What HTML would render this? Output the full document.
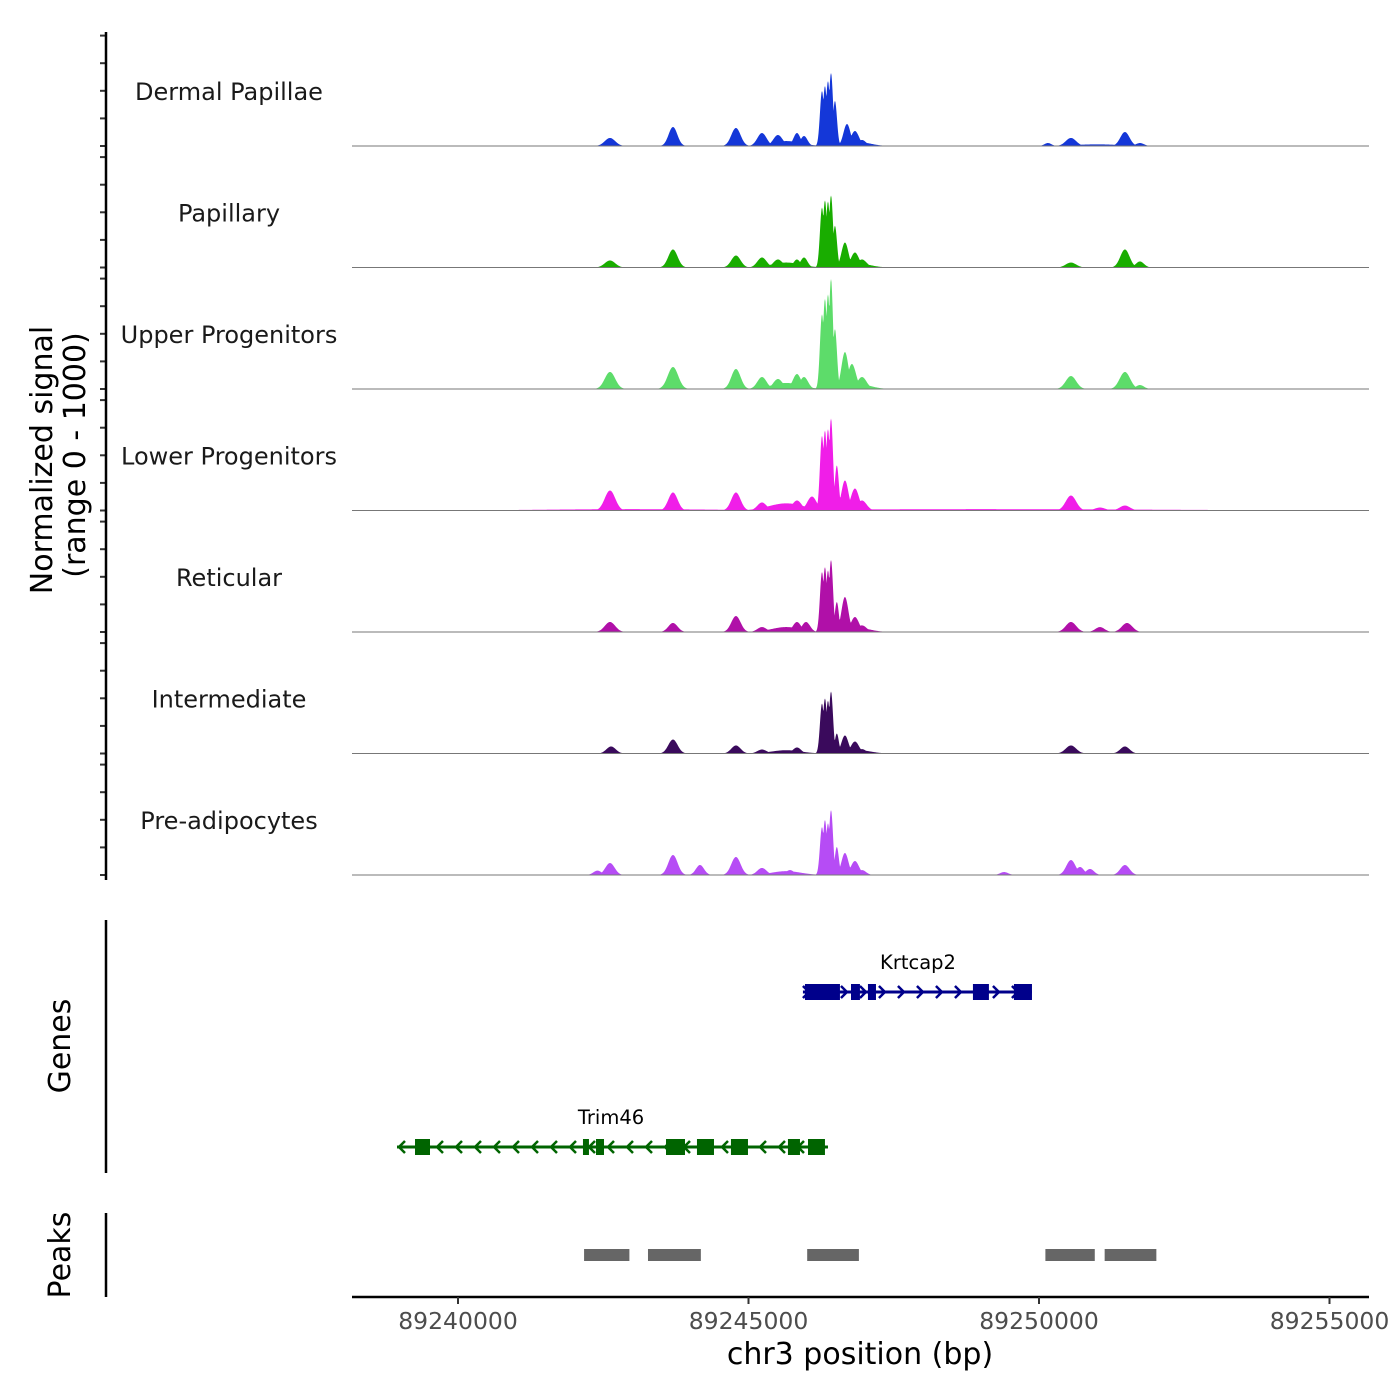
<!DOCTYPE html>
<html><head><meta charset="utf-8"><style>
html,body{margin:0;padding:0;background:#fff}
svg{display:block}
text{font-family:"DejaVu Sans","Liberation Sans",sans-serif}
</style></head><body>
<svg id="chart" width="1400" height="1400" viewBox="0 0 1400 1400" xmlns="http://www.w3.org/2000/svg">
<g id="tracks"></g>
<g id="axes"></g>
<g id="genes"></g>
<g id="peaks"></g>
</svg>
<script>
// ---- data ----
const trackNames = ["Dermal Papillae","Papillary","Upper Progenitors","Lower Progenitors","Reticular","Intermediate","Pre-adipocytes"];
const trackColors = ["#1437d8","#19ad00","#5ddc6a","#f01ee8","#b010a8","#3a0a5c","#b64cf5"];
// peaks: [position bp, value (0-1000), width bp]
const peaksDP = [[89242616,73,90],[89243700,173,75],[89244784,164,80],[89245232,118,80],[89245507,100,80],[89245834,118,60],[89245955,91,60],[89246265,500,35],[89246316,545,35],[89246368,590,35],[89246420,664,35],[89246488,410,35],[89246695,200,60],[89246832,136,70],[89246953,55,70],[89250154,27,60],[89250550,73,90],[89251479,127,80],[89251737,27,70],[89245650,45,250],[89246900,35,200],[89251000,15,400]];
const peaksPap = [[89242616,64,90],[89243700,164,80],[89244784,109,80],[89245232,91,80],[89245507,73,80],[89245834,73,60],[89245955,91,60],[89246265,545,35],[89246316,610,35],[89246368,600,35],[89246420,655,35],[89246488,380,35],[89246660,227,60],[89246832,136,70],[89246953,73,80],[89250550,45,90],[89251479,164,80],[89251737,55,70],[89245650,45,250],[89246900,35,200]];
const peaksUP = [[89242616,155,90],[89243700,200,90],[89244784,182,80],[89245232,109,80],[89245507,91,80],[89245834,136,70],[89245955,109,70],[89246265,680,35],[89246316,820,35],[89246368,860,35],[89246420,1000,35],[89246488,545,35],[89246660,336,60],[89246780,227,70],[89246953,109,80],[89250550,118,90],[89251479,155,90],[89251737,36,70],[89245650,55,250],[89246900,45,200]];
const peaksLP = [[89242616,182,90],[89243700,164,80],[89244784,164,80],[89245232,73,80],[89245834,91,80],[89246092,127,80],[89246265,680,35],[89246316,727,35],[89246368,740,35],[89246420,836,35],[89246520,410,35],[89246660,273,60],[89246832,200,70],[89246953,91,80],[89250550,136,90],[89251049,27,90],[89251479,45,90],[89249000,12,3000],[89243000,12,1500],[89245650,65,300]];
const peaksRet = [[89242616,91,90],[89243700,82,80],[89244784,145,80],[89245232,45,80],[89245834,91,70],[89245990,91,70],[89246265,545,35],[89246316,590,35],[89246368,560,35],[89246420,655,35],[89246520,273,35],[89246660,318,60],[89246832,136,70],[89246953,60,80],[89250550,91,90],[89251049,45,80],[89251515,82,90],[89245650,45,250],[89246900,35,200]];
const peaksInt = [[89242635,64,80],[89243700,127,80],[89244784,73,80],[89245232,36,80],[89245834,55,70],[89246265,455,35],[89246316,500,35],[89246368,480,35],[89246420,564,35],[89246520,182,35],[89246660,164,60],[89246832,109,70],[89246953,40,70],[89250550,73,90],[89251479,64,80],[89245650,30,250],[89246900,30,200]];
const peaksPre = [[89242616,109,80],[89242400,40,70],[89243700,182,80],[89244165,91,70],[89244784,164,80],[89245232,64,80],[89245714,45,70],[89246265,436,35],[89246316,500,35],[89246368,470,35],[89246420,590,35],[89246520,255,35],[89246660,200,60],[89246832,127,70],[89246953,45,70],[89250550,136,80],[89250705,73,70],[89250877,55,70],[89251479,91,80],[89249400,27,70],[89245650,35,250]];
const trackPeaks = [peaksDP,peaksPap,peaksUP,peaksLP,peaksRet,peaksInt,peaksPre];
const xTicks = [89240000,89245000,89250000,89255000];
const geneNames = ["Krtcap2","Trim46"];
const geneStrands = ["+","-"];
const geneStart = [89245937,89238950];
const geneEnd = [89249879,89246368];
const exonsKrtcap2 = [[89245972,89246574],[89246764,89246918],[89247056,89247194],[89248863,89249138],[89249569,89249879]];
const exonsTrim46 = [[89239260,89239518],[89242151,89242254],[89242375,89242513],[89243580,89243907],[89244113,89244406],[89244698,89244991],[89245679,89245886],[89246024,89246316]];
const peakStart = [89242170,89243270,89246010,89250110,89251130];
const peakEnd = [89242950,89244180,89246900,89250960,89252020];

// ---- scales ----
const X0=458, XPX=290.5/5000, B0=89240000;
function xs(bp){return X0+(bp-B0)*XPX;}
const plotL=352, plotR=1369;
const baselines=[146,267.5,389,510.5,632,753.5,875];
const trackH=110;
function ys(v,t){return baselines[t]-Math.min(v,1000)/1000*trackH;}
const NS="http://www.w3.org/2000/svg";
function mk(tag,attrs,parent){const e=document.createElementNS(NS,tag);for(const k in attrs)e.setAttribute(k,attrs[k]);parent.appendChild(e);return e;}

const gT=document.getElementById('tracks');
trackPeaks.forEach((pk,t)=>{
  let d="M"+plotL+","+baselines[t];
  for(let px=plotL;px<=plotR;px+=0.5){
    const bp=B0+(px-X0)/XPX;
    let v=0;
    pk.forEach(p=>{const z=(bp-p[0])/p[2];const g=p[1]*Math.exp(-0.5*z*z);if(g>v)v=g;});
    d+=" L"+px.toFixed(1)+","+ys(v,t).toFixed(2);
  }
  d+=" L"+plotR+","+baselines[t]+" Z";
  const a=mk('path',{d:d,fill:trackColors[t],stroke:'none'},gT);
  
  
  const bl=mk('line',{x1:plotL,x2:plotR,y1:baselines[t],y2:baselines[t],stroke:'#777','stroke-width':1},gT);
  
  
  const lb=mk('text',{x:229,y:baselines[t]-46,'text-anchor':'middle','font-size':24,fill:'#1a1a1a'},gT);
  lb.textContent=trackNames[t];
  
  
  for(let k=0;k<5;k++){
    const ty=baselines[t]-k*27.6;
    const tk=mk('line',{x1:100,x2:106,y1:ty,y2:ty,stroke:'#333','stroke-width':2},gT);
    
    
  }
});

const gA=document.getElementById('axes');
[[32,880],[920,1173],[1213,1297]].forEach(s=>{
  const l=mk('line',{x1:106,x2:106,y1:s[0],y2:s[1],stroke:'#000','stroke-width':2.5},gA);
  
  
});
const xl=mk('line',{x1:plotL,x2:plotR,y1:1297,y2:1297,stroke:'#000','stroke-width':2.5},gA);


xTicks.forEach(v=>{
  const t=mk('line',{x1:xs(v),x2:xs(v),y1:1297,y2:1304,stroke:'#333','stroke-width':2},gA);
  
  
  const tx=mk('text',{x:xs(v),y:1329,'text-anchor':'middle','font-size':23.5,fill:'#4d4d4d'},gA);
  tx.textContent=String(v);
  
  
});
function label(txt,x,y,rot,size,name){
  const e=mk('text',{x:x,y:y,'text-anchor':'middle','font-size':size,fill:'#000',transform:rot?`rotate(-90 ${x} ${y})`:''},gA);
  e.textContent=txt;
  
  
}
label("chr3 position (bp)",860,1364,false,30,'x-axis-title');
label("Normalized signal",52,460,true,30,'y-axis-title');
label("(range 0 - 1000)",85,455,true,30,'y-axis-subtitle');
label("Genes",70,1046,true,30,'genes-axis-title');
label("Peaks",70,1255,true,30,'peaks-axis-title');

const gG=document.getElementById('genes');
const geneY=[992,1147], geneCol=["#00008b","#006400"], exonSets=[exonsKrtcap2,exonsTrim46];
geneNames.forEach((g,i)=>{
  const y=geneY[i], c=geneCol[i], x1=xs(geneStart[i]), x2=xs(geneEnd[i]);
  const ln=mk('line',{x1:x1,x2:x2,y1:y,y2:y,stroke:c,'stroke-width':3},gG);
  
  
  const dir=geneStrands[i]==="+"?1:-1;
  for(let ax=x1+4;ax<=x2;ax+=19){
    const ar=mk('polyline',{points:`${ax-dir*4},${y-6} ${ax+dir*2},${y} ${ax-dir*4},${y+6}`,fill:'none',stroke:c,'stroke-width':2.5},gG);
    
    
  }
  exonSets[i].forEach(e=>{
    const r=mk('rect',{x:xs(e[0]),y:y-8,width:xs(e[1])-xs(e[0]),height:16,fill:c},gG);
    
    
  });
  const t=mk('text',{x:(i===0?918:611),y:y-23,'text-anchor':'middle','font-size':19.5,fill:'#000'},gG);
  t.textContent=g;
  
  
});

const gP=document.getElementById('peaks');
peakStart.forEach((s,i)=>{
  const r=mk('rect',{x:xs(s),y:1249,width:xs(peakEnd[i])-xs(s),height:12,fill:'#666'},gP);
  
  
});
</script>
</body></html>
